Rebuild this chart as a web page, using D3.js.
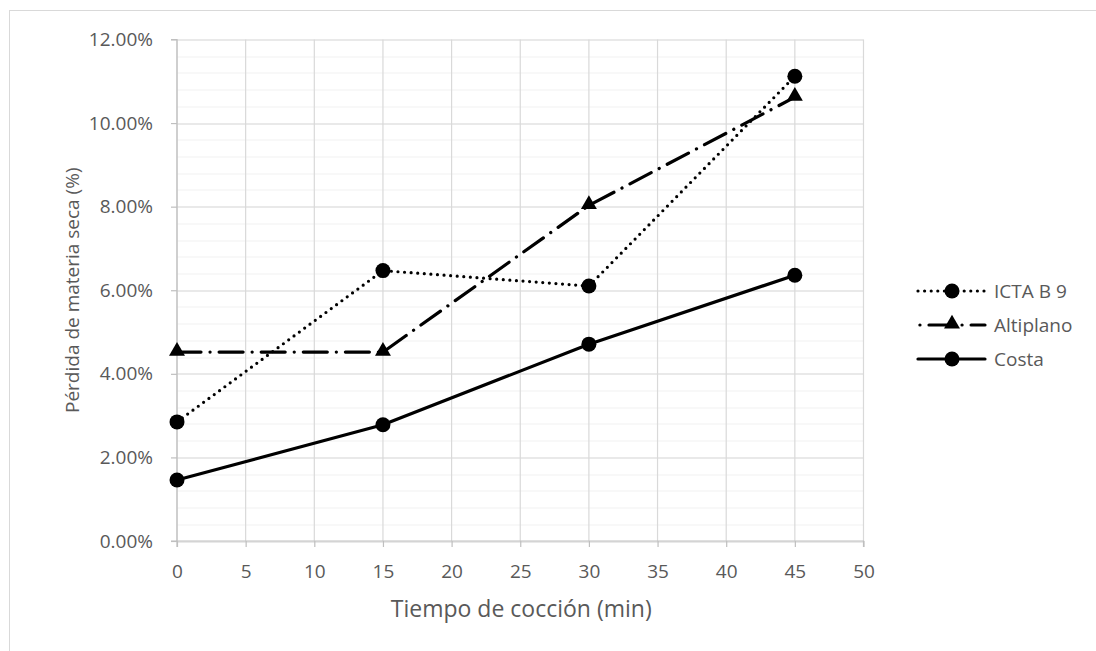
<!DOCTYPE html>
<html>
<head>
<meta charset="utf-8">
<script src="https://cdn.jsdelivr.net/npm/d3@7"></script>
<style>
    body { margin: 0; background: #fff; }
    text { font-family: "Open Sans", "Noto Sans", sans-serif; fill: #595959; }
</style>
</head>
<body>
<div id="chart"></div>
<script>
// data
var tiempos = [0, 15, 30, 45];
var icta = [0.0285, 0.0647, 0.0610, 0.1112];
var altiplano = [0.0452, 0.0452, 0.0803, 0.1062];
var costa = [0.0146, 0.0278, 0.0471, 0.0636];
var xTicks = [0, 5, 10, 15, 20, 25, 30, 35, 40, 45, 50];
var yTicks = [0, 0.02, 0.04, 0.06, 0.08, 0.10, 0.12];

var series = [
    { name: 'ICTA B 9', values: icta, dash: '0 6.6', marker: 'circle', legendOffset: 0 },
    { name: 'Altiplano', values: altiplano, dash: '24 9 0.1 9', marker: 'triangle', legendOffset: -11 },
    { name: 'Costa', values: costa, dash: null, marker: 'circle', legendOffset: 0 }
];

var W = 1096, H = 651;
var margin = {top: 39.5, left: 177};
var width = 863.5 - margin.left,
    height = 541 - margin.top;

var svg = d3.select("#chart").append("svg")
    .attr("width", W)
    .attr("height", H);

// outer chart border (only left and top visible)
svg.append("rect")
    .attr("x", 9.5).attr("y", 10.5)
    .attr("width", W + 20).attr("height", H + 20)
    .attr("fill", "none")
    .attr("stroke", "#d9d9d9");

var g = svg.append("g")
    .attr("transform", "translate(" + margin.left + "," + margin.top + ")");

var x = d3.scaleLinear().domain([0, 50]).range([0, width]);
var y = d3.scaleLinear().domain([0, 0.12]).range([height, 0]);

// minor horizontal grid every 0.4%
var minor = d3.range(0, 121, 4).map(function(d) { return d / 1000; });
g.append("g")
    .selectAll("line")
    .data(minor)
    .enter().append("line")
    .attr("x1", 0).attr("x2", width)
    .attr("y1", function(d) { return Math.round(y(d)) + 0.5; })
    .attr("y2", function(d) { return Math.round(y(d)) + 0.5; })
    .attr("stroke", "#f2f2f2")
    .attr("stroke-width", 1.2);

// major grid
g.append("g")
    .selectAll("line")
    .data(yTicks)
    .enter().append("line")
    .attr("x1", 0).attr("x2", width)
    .attr("y1", function(d) { return Math.round(y(d)) + 0.5; })
    .attr("y2", function(d) { return Math.round(y(d)) + 0.5; })
    .attr("stroke", "#d9d9d9")
    .attr("stroke-width", 1.2);

g.append("g")
    .selectAll("line")
    .data(xTicks)
    .enter().append("line")
    .attr("y1", 0).attr("y2", height)
    .attr("x1", function(d) { return x(d); })
    .attr("x2", function(d) { return x(d); })
    .attr("stroke", "#d9d9d9")
    .attr("stroke-width", 1.2);

// axes
var xAxis = d3.axisBottom(x).tickValues(xTicks).tickSize(6).tickPadding(18);
var yAxis = d3.axisLeft(y).tickValues(yTicks).tickSize(6).tickPadding(18)
    .tickFormat(d3.format(".2%"));

var gx = g.append("g")
    .attr("transform", "translate(0," + height + ")")
    .call(xAxis);
var gy = g.append("g").call(yAxis);

[gx, gy].forEach(function(a) {
    a.select(".domain").attr("stroke", "#bfbfbf").attr("stroke-width", 1.2);
    a.selectAll(".tick line").attr("stroke", "#bfbfbf").attr("stroke-width", 1.2);
    a.selectAll(".tick text").style("font-size", "19px").attr("fill", "#595959");
});
gy.select(".domain").attr("d", "M-6,0H0V" + height + "H-6");
gx.select(".domain").attr("d", "M0,6V0H" + width + "V6");

// axis titles
svg.append("text")
    .attr("x", margin.left + width / 2 + 1)
    .attr("y", 617)
    .attr("text-anchor", "middle")
    .style("font-size", "23px")
    .text("Tiempo de cocción (min)");

svg.append("text")
    .attr("transform", "translate(79," + (margin.top + height / 2) + ") rotate(-90)")
    .attr("text-anchor", "middle")
    .style("font-size", "19px")
    .text("Pérdida de materia seca (%)");

// lines
var line = d3.line()
    .x(function(d, i) { return x(tiempos[i]); })
    .y(function(d) { return y(d); });

function drawMarker(sel, type, cx, cy) {
    if (type === 'circle') {
        sel.append("circle").attr("cx", cx).attr("cy", cy).attr("r", 7.5).attr("fill", "#000");
    } else {
        sel.append("path")
            .attr("d", d3.symbol().type(d3.symbolTriangle).size(110)())
            .attr("transform", "translate(" + cx + "," + (cy - 1) + ")")
            .attr("fill", "#000");
    }
}

series.forEach(function(s) {
    var p = g.append("path")
        .attr("d", line(s.values))
        .attr("fill", "none")
        .attr("stroke", "#000")
        .attr("stroke-width", 3.2)
        .attr("stroke-linecap", "round")
        .attr("stroke-linejoin", "round");
    if (s.dash) p.attr("stroke-dasharray", s.dash);
});

series.forEach(function(s) {
    s.values.forEach(function(v, i) {
        drawMarker(g, s.marker, x(tiempos[i]), y(v));
    });
});

// legend
var legend = svg.append("g");
series.forEach(function(s, i) {
    var ly = 291 + i * 34;
    var l = legend.append("line")
        .attr("x1", 918).attr("x2", 985)
        .attr("y1", ly).attr("y2", ly)
        .attr("stroke", "#000")
        .attr("stroke-width", 3.2)
        .attr("stroke-linecap", "round");
    if (s.dash) l.attr("stroke-dasharray", s.dash).attr("stroke-dashoffset", s.legendOffset);
    drawMarker(legend, s.marker, 952, ly);
    legend.append("text")
        .attr("x", 994)
        .attr("y", ly + 7)
        .style("font-size", "19px")
        .text(s.name);
});
</script>
</body>
</html>
